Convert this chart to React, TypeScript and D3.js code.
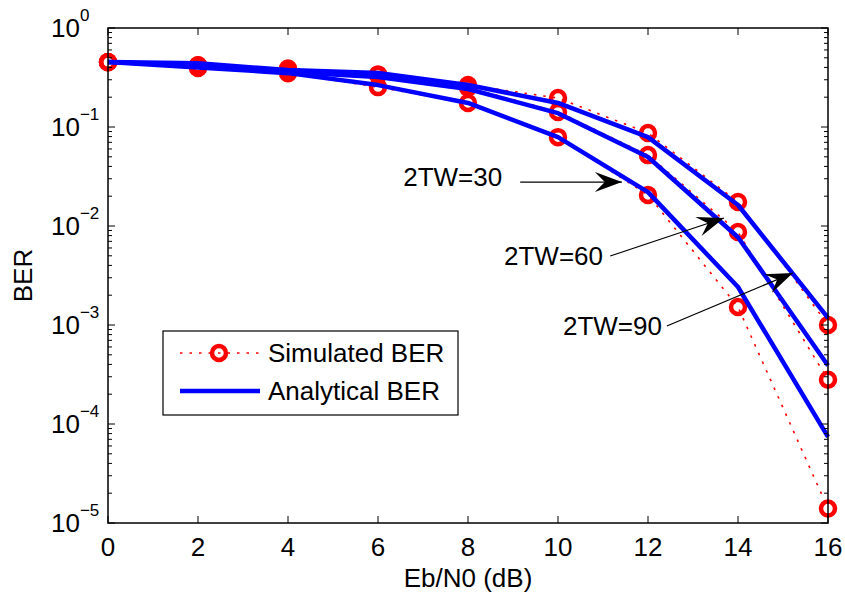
import React, { useEffect, useRef } from "react";
import * as d3 from "d3";

const width = 845;
const height = 594;
const marginTop = 28;
const marginRight = 17;
const marginBottom = 71;
const marginLeft = 108;
const fontFamily = "'Liberation Sans', Arial, Helvetica, sans-serif";
const fontSize = 26;

// Eb/N0 (dB)
const ebn0 = [0, 2, 4, 6, 8, 10, 12, 14, 16];

// simulated BER (circles)
const sim30 = [0.453, 0.394, 0.35, 0.253, 0.175, 0.079, 0.0206, 0.00152, 0.000014];
const sim60 = [0.45, 0.42, 0.38, 0.335, 0.25, 0.142, 0.052, 0.0087, 0.00028];
const sim90 = [0.453, 0.42, 0.39, 0.34, 0.266, 0.196, 0.087, 0.0175, 0.001];

// analytical BER (lines)
const ana30 = [0.453, 0.4, 0.35, 0.265, 0.175, 0.079, 0.022, 0.00242, 0.000074];
const ana60 = [0.453, 0.42, 0.36, 0.32, 0.242, 0.138, 0.0498, 0.0077, 0.00039];
const ana90 = [0.453, 0.44, 0.376, 0.351, 0.266, 0.175, 0.079, 0.0163, 0.00118];

const xTicks = [0, 2, 4, 6, 8, 10, 12, 14, 16];
const yExponents = [0, -1, -2, -3, -4, -5];

// annotation arrows, in data units
const annLabels = ["2TW=30", "2TW=60", "2TW=90"];
const annText = [[8.76, 0.0313], [11.0, 0.005], [12.31, 0.00098]];
const annTail = [[9.16, 0.0278], [11.16, 0.00498], [12.42, 0.000977]];
const annTip = [[11.42, 0.0278], [13.69, 0.01205], [15.22, 0.00335]];

export default function App() {
  const ref = useRef<SVGSVGElement>(null);

  useEffect(() => {
    const svg = d3.select(ref.current);
    svg.selectAll("*").remove();

    const x = d3.scaleLinear().domain([0, 16]).range([marginLeft, width - marginRight]);
    const y = d3.scaleLog().domain([1e-5, 1]).range([height - marginBottom, marginTop]);

    const line = d3
      .line<number>()
      .x((d, i) => x(ebn0[i]))
      .y(d => y(d));

    // simulated curves: red dotted + circles
    [sim30, sim60, sim90].forEach(s => {
      svg
        .append("path")
        .datum(s)
        .attr("fill", "none")
        .attr("stroke", "#ff0000")
        .attr("stroke-width", 1.6)
        .attr("stroke-dasharray", "2.5,7")
        .attr("d", line);
      svg
        .append("g")
        .selectAll("circle")
        .data(s)
        .join("circle")
        .attr("cx", (d, i) => x(ebn0[i]))
        .attr("cy", d => y(d))
        .attr("r", 7)
        .attr("fill", "none")
        .attr("stroke", "#ff0000")
        .attr("stroke-width", 4.5);
    });

    // analytical curves
    [ana30, ana60, ana90].forEach(s => {
      svg
        .append("path")
        .datum(s)
        .attr("fill", "none")
        .attr("stroke", "#0000ff")
        .attr("stroke-width", 4.5)
        .attr("stroke-linejoin", "round")
        .attr("d", line);
    });

    // axes box
    const x0 = x(0), x1 = x(16), y0 = y(1e-5), y1 = y(1);
    svg
      .append("rect")
      .attr("x", x0)
      .attr("y", y1)
      .attr("width", x1 - x0)
      .attr("height", y0 - y1)
      .attr("fill", "none")
      .attr("stroke", "#000")
      .attr("stroke-width", 1.5);

    const ticks = svg.append("g").attr("stroke", "#000").attr("stroke-width", 1);

    // x ticks (bottom and top, inward)
    xTicks.forEach(t => {
      ticks.append("line").attr("x1", x(t)).attr("x2", x(t)).attr("y1", y0).attr("y2", y0 - 7);
      ticks.append("line").attr("x1", x(t)).attr("x2", x(t)).attr("y1", y1).attr("y2", y1 + 7);
    });

    // y ticks, major and minor
    yExponents.forEach(e => {
      const v = Math.pow(10, e);
      ticks.append("line").attr("x1", x0).attr("x2", x0 + 7).attr("y1", y(v)).attr("y2", y(v));
      ticks.append("line").attr("x1", x1).attr("x2", x1 - 7).attr("y1", y(v)).attr("y2", y(v));
      if (e < 0) {
        d3.range(2, 10).forEach(m => {
          const mv = m * v;
          ticks.append("line").attr("x1", x0).attr("x2", x0 + 4).attr("y1", y(mv)).attr("y2", y(mv));
          ticks.append("line").attr("x1", x1).attr("x2", x1 - 4).attr("y1", y(mv)).attr("y2", y(mv));
        });
      }
    });

    // x tick labels
    svg
      .append("g")
      .attr("font-family", fontFamily)
      .attr("font-size", fontSize)
      .attr("text-anchor", "middle")
      .selectAll("text")
      .data(xTicks)
      .join("text")
      .attr("x", d => x(d))
      .attr("y", y0 + 33)
      .text(d => d);

    // y tick labels 10^e
    const yl = svg
      .append("g")
      .attr("font-family", fontFamily)
      .selectAll("text")
      .data(yExponents)
      .join("text")
      .attr("x", x0 - 57)
      .attr("y", d => y(Math.pow(10, d)) + 9);
    yl.append("tspan").attr("font-size", fontSize).text("10");
    yl.append("tspan")
      .attr("font-size", 17)
      .attr("dy", -16)
      .text(d => (d === 0 ? "0" : "\u2212" + Math.abs(d)));

    // axis titles
    svg
      .append("text")
      .attr("font-family", fontFamily)
      .attr("font-size", fontSize)
      .attr("text-anchor", "middle")
      .attr("x", (x0 + x1) / 2)
      .attr("y", 587)
      .text("Eb/N0 (dB)");
    svg
      .append("text")
      .attr("font-family", fontFamily)
      .attr("font-size", fontSize)
      .attr("text-anchor", "middle")
      .attr("transform", `translate(32,${(y0 + y1) / 2}) rotate(-90)`)
      .text("BER");

    // annotation arrows
    annLabels.forEach((lab, i) => {
      const [tx, ty] = [x(annTail[i][0]), y(annTail[i][1])];
      const [hx, hy] = [x(annTip[i][0]), y(annTip[i][1])];
      svg
        .append("line")
        .attr("x1", tx)
        .attr("y1", ty)
        .attr("x2", hx)
        .attr("y2", hy)
        .attr("stroke", "#000")
        .attr("stroke-width", 1.2);
      const ang = (Math.atan2(hy - ty, hx - tx) * 180) / Math.PI;
      svg
        .append("path")
        .attr("d", "M0,0L-27,-10L-17,0L-27,10Z")
        .attr("fill", "#000")
        .attr("transform", `translate(${hx},${hy}) rotate(${ang})`);
      svg
        .append("text")
        .attr("font-family", fontFamily)
        .attr("font-size", fontSize)
        .attr("text-anchor", "end")
        .attr("dy", "0.35em")
        .attr("x", x(annText[i][0]))
        .attr("y", y(annText[i][1]))
        .text(lab);
    });

    // legend
    const lg = svg.append("g");
    lg.append("rect")
      .attr("x", 163)
      .attr("y", 331)
      .attr("width", 295)
      .attr("height", 84)
      .attr("fill", "#fff")
      .attr("stroke", "#000")
      .attr("stroke-width", 1.2);
    lg.append("line")
      .attr("x1", 180)
      .attr("x2", 260)
      .attr("y1", 353)
      .attr("y2", 353)
      .attr("stroke", "#ff0000")
      .attr("stroke-width", 1.6)
      .attr("stroke-dasharray", "2.5,7");
    lg.append("circle")
      .attr("cx", 219)
      .attr("cy", 353)
      .attr("r", 7)
      .attr("fill", "none")
      .attr("stroke", "#ff0000")
      .attr("stroke-width", 4.5);
    lg.append("line")
      .attr("x1", 180)
      .attr("x2", 260)
      .attr("y1", 391)
      .attr("y2", 391)
      .attr("stroke", "#0000ff")
      .attr("stroke-width", 4.5);
    lg.selectAll("text.leg")
      .data(["Simulated BER", "Analytical BER"])
      .join("text")
      .attr("class", "leg")
      .attr("font-family", fontFamily)
      .attr("font-size", fontSize)
      .attr("x", 268)
      .attr("y", (d, i) => 353 + i * 38)
      .attr("dy", "0.35em")
      .text(d => d);
  }, []);

  return (
    <svg
      ref={ref}
      width={width}
      height={height}
      viewBox={`0 0 ${width} ${height}`}
      style={{ position: "absolute", left: 0, top: 0, background: "#fff" }}
    ></svg>
  );
}
